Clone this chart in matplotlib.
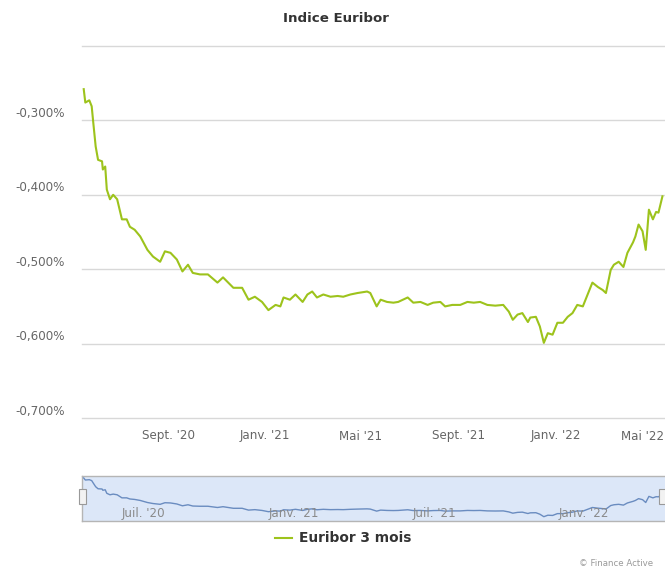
import matplotlib
matplotlib.use("Agg")
import matplotlib.pyplot as plt
import matplotlib.dates as mdates
from matplotlib.patches import Rectangle
import datetime as dt

# ---- data ----
dates = [
    "2020-05-18", "2020-05-20", "2020-05-25", "2020-05-28", "2020-05-30", "2020-06-02",
    "2020-06-05", "2020-06-10", "2020-06-11", "2020-06-14", "2020-06-16", "2020-06-20",
    "2020-06-24", "2020-06-29", "2020-07-05", "2020-07-11", "2020-07-15", "2020-07-21",
    "2020-07-28", "2020-08-06", "2020-08-13", "2020-08-22", "2020-08-28", "2020-09-04",
    "2020-09-12", "2020-09-19", "2020-09-26", "2020-10-02", "2020-10-11", "2020-10-21",
    "2020-11-02", "2020-11-09", "2020-11-22", "2020-12-03", "2020-12-11", "2020-12-19",
    "2020-12-28", "2021-01-05", "2021-01-14", "2021-01-20", "2021-01-24", "2021-02-01",
    "2021-02-08", "2021-02-17", "2021-02-23", "2021-03-01", "2021-03-07", "2021-03-15",
    "2021-03-24", "2021-04-02", "2021-04-09", "2021-04-18", "2021-04-27", "2021-05-09",
    "2021-05-13", "2021-05-21", "2021-05-26", "2021-06-03", "2021-06-11", "2021-06-17",
    "2021-06-29", "2021-07-06", "2021-07-15", "2021-07-24", "2021-07-31", "2021-08-09",
    "2021-08-15", "2021-08-24", "2021-09-03", "2021-09-12", "2021-09-20", "2021-09-28",
    "2021-10-07", "2021-10-17", "2021-10-27", "2021-11-03", "2021-11-08", "2021-11-14",
    "2021-11-20", "2021-11-27", "2021-11-30", "2021-12-07", "2021-12-12", "2021-12-17",
    "2021-12-22", "2021-12-28", "2022-01-03", "2022-01-10", "2022-01-16", "2022-01-22",
    "2022-01-28", "2022-02-04", "2022-02-10", "2022-02-16", "2022-02-23", "2022-03-01",
    "2022-03-05", "2022-03-11", "2022-03-15", "2022-03-21", "2022-03-27", "2022-04-01",
    "2022-04-08", "2022-04-11", "2022-04-15", "2022-04-20", "2022-04-24", "2022-04-28",
    "2022-05-03", "2022-05-07", "2022-05-10", "2022-05-15",
]
euribor_3m = [
    -0.258, -0.276, -0.273, -0.281, -0.303, -0.335,
    -0.353, -0.355, -0.366, -0.362, -0.393, -0.406,
    -0.400, -0.406, -0.433, -0.433, -0.443, -0.447,
    -0.456, -0.474, -0.483, -0.490, -0.476, -0.478,
    -0.487, -0.503, -0.494, -0.505, -0.507, -0.507,
    -0.518, -0.511, -0.525, -0.525, -0.541, -0.537,
    -0.544, -0.555, -0.548, -0.550, -0.538, -0.541,
    -0.534, -0.544, -0.534, -0.530, -0.538, -0.534,
    -0.537, -0.536, -0.537, -0.534, -0.532, -0.530,
    -0.532, -0.550, -0.541, -0.544, -0.545, -0.544,
    -0.538, -0.545, -0.544, -0.548, -0.545, -0.544,
    -0.550, -0.548, -0.548, -0.544, -0.545, -0.544,
    -0.548, -0.549, -0.548, -0.557, -0.568, -0.561,
    -0.559, -0.571, -0.565, -0.564, -0.577, -0.599,
    -0.586, -0.588, -0.572, -0.572, -0.564, -0.559,
    -0.548, -0.550, -0.534, -0.518, -0.524, -0.528,
    -0.532, -0.501, -0.494, -0.490, -0.497, -0.478,
    -0.464, -0.456, -0.440, -0.449, -0.474, -0.420,
    -0.433, -0.423, -0.424, -0.402,
]
series_name = "Euribor 3 mois"
title = "Indice Euribor"
y_ticks = [-0.7, -0.6, -0.5, -0.4, -0.3, -0.2]
y_labels = ["-0,700%", "-0,600%", "-0,500%", "-0,400%", "-0,300%", ""]
x_tick_dates = ["2020-09-01", "2021-01-01", "2021-05-01", "2021-09-01", "2022-01-01", "2022-05-01"]
x_tick_labels = ["Sept. '20", "Janv. '21", "Mai '21", "Sept. '21", "Janv. '22", "Mai '22"]
nav_tick_dates = ["2020-07-01", "2021-01-01", "2021-07-01", "2022-01-01"]
nav_tick_labels = ["Juil. '20", "Janv. '21", "Juil. '21", "Janv. '22"]
credit = "© Finance Active"

to_dt = lambda s: dt.datetime.strptime(s, "%Y-%m-%d")
x = [to_dt(d) for d in dates]
xmin = mdates.date2num(dt.datetime(2020, 5, 15, 20))
xmax = mdates.date2num(dt.datetime(2022, 5, 18, 5))

W, H = 665, 570
fig = plt.figure(figsize=(W / 100, H / 100), dpi=100)
fig.patch.set_facecolor("white")

def fx(px):
    return px / W

def fy(py):
    return 1 - py / H

# main axes: x 82..665, y 46..418
ax = fig.add_axes([fx(82), fy(418), fx(665 - 82), (418 - 46) / H])
ax.set_xlim(xmin, xmax)
ax.set_ylim(-0.7, -0.2)
for s in ax.spines.values():
    s.set_visible(False)
ax.set_xticks([])
ax.set_yticks([])
for yv in y_ticks:
    ax.axhline(yv, color="#d8d8d8", lw=1.0, zorder=1, clip_on=False)
green = "#9dc31c"
ax.plot(x, euribor_3m, color=green, lw=1.5, zorder=3, solid_joinstyle="round")

label_color = "#666666"
for yv, lab in zip(y_ticks, y_labels):
    if lab:
        ax.annotate(lab, xy=(0, yv), xycoords=("axes fraction", "data"),
                    xytext=(-17, 7), textcoords="offset pixels",
                    ha="right", va="center", fontsize=8.6, color=label_color)
for i, (d, lab) in enumerate(zip(x_tick_dates, x_tick_labels)):
    last = i == len(x_tick_labels) - 1
    if last:
        ax.annotate(lab, xy=(1, 0), xycoords="axes fraction",
                    xytext=(-1, -18), textcoords="offset pixels",
                    ha="right", va="center", fontsize=8.6, color=label_color,
                    annotation_clip=False)
    else:
        ax.annotate(lab, xy=(to_dt(d), 0), xycoords=("data", "axes fraction"),
                    xytext=(0, -18), textcoords="offset pixels",
                    ha="center", va="center", fontsize=8.6, color=label_color,
                    annotation_clip=False)

# title
fig.text(fx(336), fy(18), title, ha="center", va="center", fontsize=9.6,
         fontweight="bold", color="#333333")

# navigator: x 82..665, y 476..521
nav = fig.add_axes([fx(82), fy(521), fx(665 - 82), (521 - 476) / H])
nav.set_xlim(xmin, xmax)
nav.set_ylim(-0.637, -0.2405)
nav.set_facecolor("#dce7f8")
for s in nav.spines.values():
    s.set_color("#b5b5b5")
    s.set_linewidth(1.0)
nav.spines["right"].set_visible(False)
nav.set_xticks([])
nav.set_yticks([])
nav.plot(x, euribor_3m, color="#6a8cc0", lw=1.0, zorder=3)
for d, lab in zip(nav_tick_dates, nav_tick_labels):
    nav.annotate(lab, xy=(to_dt(d), 0), xycoords=("data", "axes fraction"),
                 xytext=(3, 8), textcoords="offset pixels",
                 ha="left", va="center", fontsize=8.6, color="#8a8a8a")

# navigator handles
for hx in (79, 659):
    fig.patches.append(Rectangle((fx(hx), fy(504)), 7 / W, 15 / H,
                                 transform=fig.transFigure, facecolor="#f2f2f2",
                                 edgecolor="#999999", lw=0.8, zorder=5))

# legend
fig.add_artist(plt.Line2D([fx(275), fx(292)], [fy(538), fy(538)],
                          color=green, lw=1.5, transform=fig.transFigure))
fig.text(fx(299), fy(538), series_name, ha="left", va="center", fontsize=9.9,
         fontweight="bold", color="#333333")

# credit
fig.text(fx(579), fy(563), credit, ha="left", va="center", fontsize=6.2,
         color="#999999")

fig.savefig("out.png", dpi=100, facecolor="white")
